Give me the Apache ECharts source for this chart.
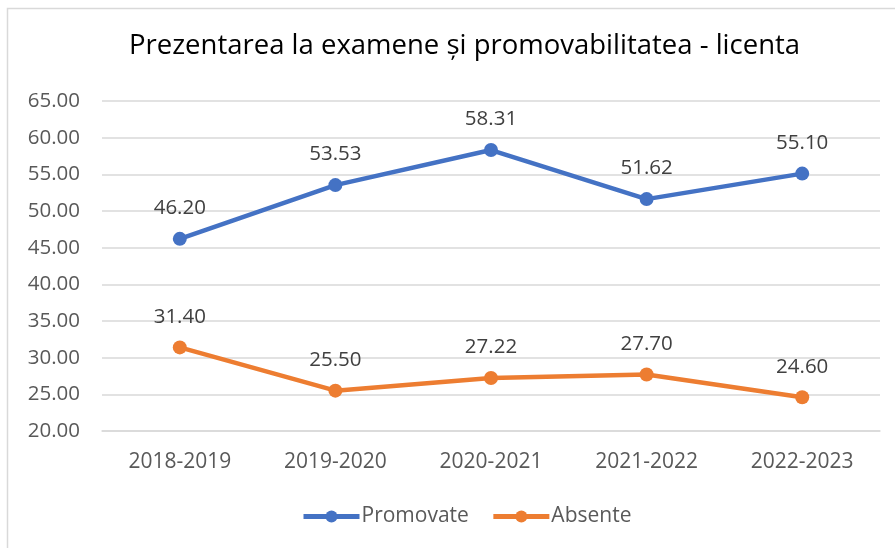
<!DOCTYPE html>
<html>
<head>
<meta charset="utf-8">
<script src="https://cdn.jsdelivr.net/npm/echarts@6/dist/echarts.min.js"></script>
<style>html,body{margin:0;padding:0;background:#fff;}#c{width:895px;height:548px;}</style>
</head>
<body>
<div id="c"></div>
<script>
const categories = ['2018-2019', '2019-2020', '2020-2021', '2021-2022', '2022-2023'];
const promovate = [46.20, 53.53, 58.31, 51.62, 55.10];
const absente = [31.40, 25.50, 27.22, 27.70, 24.60];
const seriesNames = ['Promovate', 'Absente'];
const yTicks = { min: 20, max: 65, interval: 5 };

const FONT = "'Open Sans', sans-serif";
const chart = echarts.init(document.getElementById('c'));
chart.setOption({
  animation: false,
  backgroundColor: '#fff',
  textStyle: { fontFamily: FONT },
  graphic: [{
    type: 'polyline',
    shape: { points: [[7.5, 548], [7.5, 8.5], [895, 8.5]] },
    style: { stroke: '#d9d9d9', lineWidth: 1.5, fill: null },
    silent: true
  }],
  title: {
    text: 'Prezentarea la examene și promovabilitatea - licenta',
    left: 124,
    top: 27,
    textStyle: { fontFamily: FONT, fontSize: 27.5, fontWeight: 'normal', color: '#000' }
  },
  legend: {
    data: seriesNames,
    bottom: 16,
    left: 296,
    itemWidth: 56,
    itemHeight: 15,
    itemGap: 22,
    lineStyle: { width: 5 },
    textStyle: { fontFamily: FONT, fontSize: 21, color: '#595959', padding: [0, 0, 0, -3] }
  },
  grid: { left: 102, right: 15, top: 101, bottom: 117, containLabel: false },
  xAxis: {
    type: 'category',
    data: categories,
    boundaryGap: true,
    axisLine: { show: true, lineStyle: { color: '#d9d9d9', width: 1.5 } },
    axisTick: { show: false },
    axisLabel: { fontFamily: FONT, fontSize: 21, color: '#595959', margin: 21 }
  },
  yAxis: {
    type: 'value',
    min: yTicks.min,
    max: yTicks.max,
    interval: yTicks.interval,
    axisLine: { show: false },
    axisTick: { show: false },
    splitLine: { lineStyle: { color: '#d9d9d9', width: 1.5 } },
    axisLabel: { fontFamily: FONT, fontSize: 20.5, color: '#595959', margin: 22, formatter: v => v.toFixed(2) }
  },
  series: [
    {
      name: seriesNames[0], type: 'line', data: promovate,
      symbol: 'circle', symbolSize: 14,
      lineStyle: { color: '#4472c4', width: 4.5 },
      itemStyle: { color: '#4472c4' },
      label: { show: true, position: 'top', distance: 13, fontFamily: FONT, fontSize: 20.5, color: '#404040', formatter: p => p.value.toFixed(2) }
    },
    {
      name: seriesNames[1], type: 'line', data: absente,
      symbol: 'circle', symbolSize: 14,
      lineStyle: { color: '#ed7d31', width: 4.5 },
      itemStyle: { color: '#ed7d31' },
      label: { show: true, position: 'top', distance: 13, fontFamily: FONT, fontSize: 20.5, color: '#404040', formatter: p => p.value.toFixed(2) }
    }
  ]
});
</script>
</body>
</html>
